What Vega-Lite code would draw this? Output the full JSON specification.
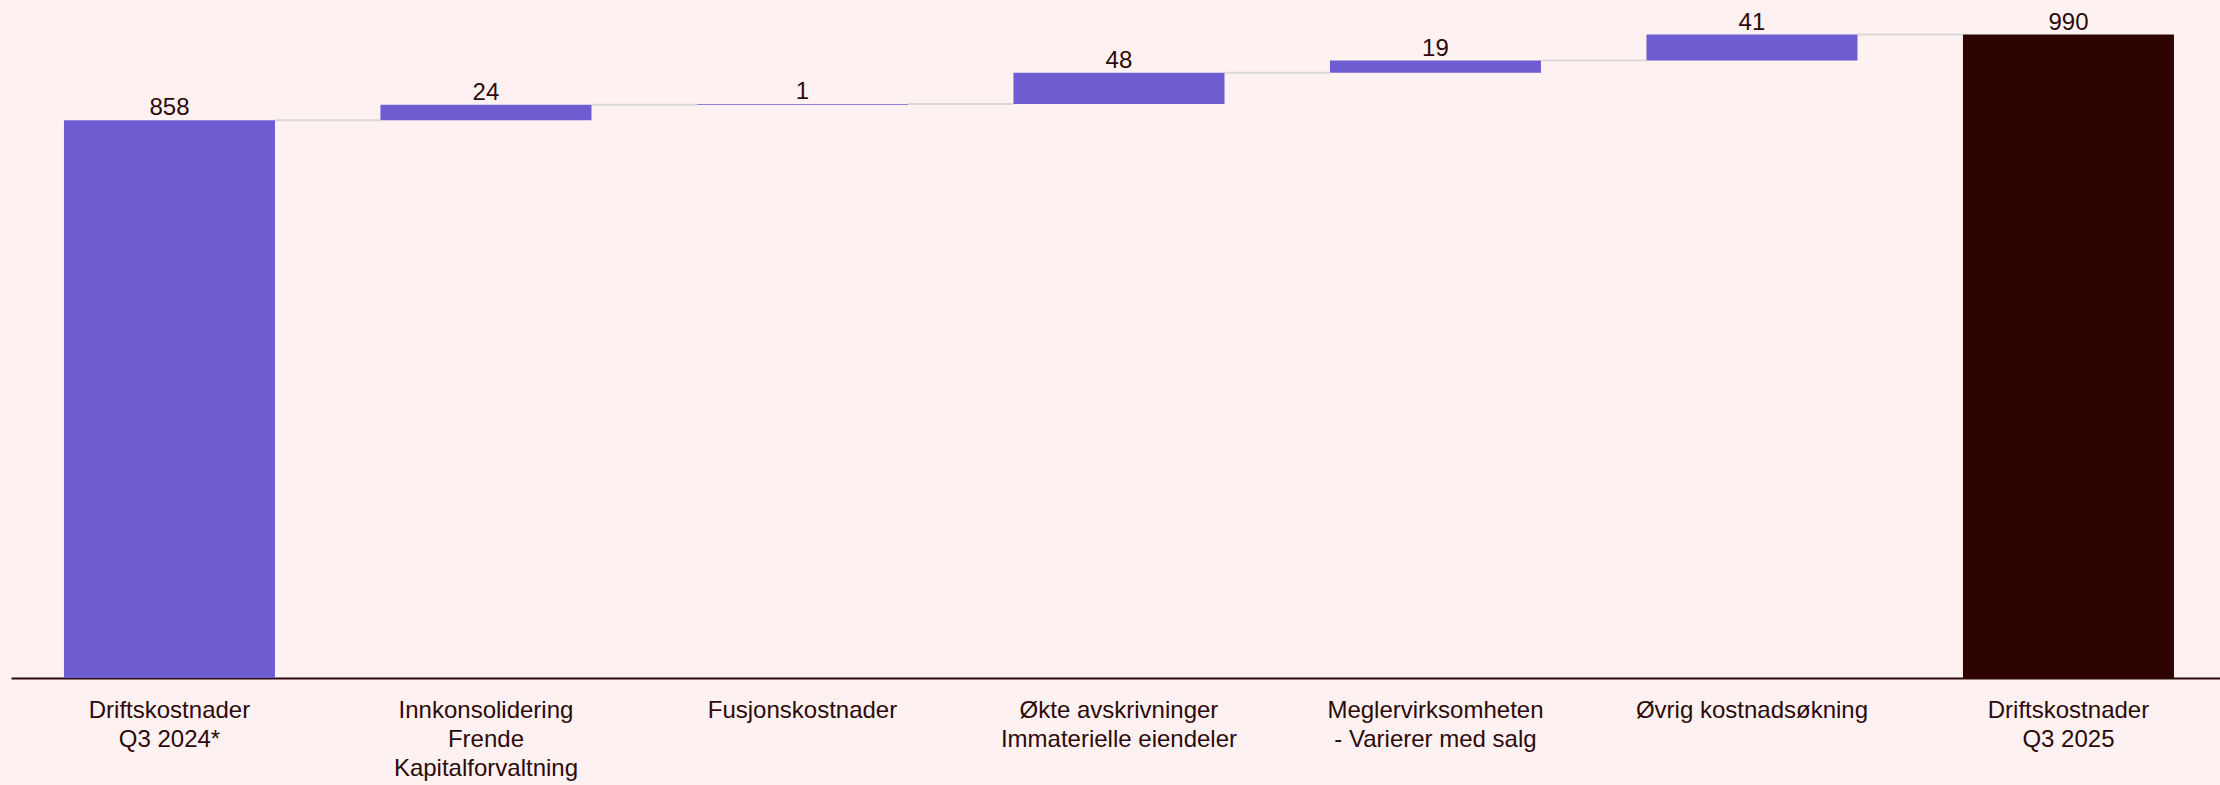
{
  "$schema": "https://vega.github.io/schema/vega-lite/v6.json",
  "width": 2209,
  "height": 650,
  "autosize": {"type": "none"},
  "padding": {"left": 11, "top": 28, "right": 0, "bottom": 107},
  "background": "#FDF1F1",
  "config": {"view": {"stroke": null}, "font": "Liberation Sans"},
  "data": {
    "values": [
      {"cat": "Driftskostnader|Q3 2024*", "start": 0, "end": 858, "text": "858", "kind": "a", "next": "Innkonsolidering|Frende|Kapitalforvaltning"},
      {"cat": "Innkonsolidering|Frende|Kapitalforvaltning", "start": 858, "end": 882, "text": "24", "kind": "a", "next": "Fusjonskostnader"},
      {"cat": "Fusjonskostnader", "start": 882, "end": 883, "text": "1", "kind": "a", "next": "Økte avskrivninger|Immaterielle eiendeler"},
      {"cat": "Økte avskrivninger|Immaterielle eiendeler", "start": 883, "end": 931, "text": "48", "kind": "a", "next": "Meglervirksomheten|- Varierer med salg"},
      {"cat": "Meglervirksomheten|- Varierer med salg", "start": 931, "end": 950, "text": "19", "kind": "a", "next": "Øvrig kostnadsøkning"},
      {"cat": "Øvrig kostnadsøkning", "start": 950, "end": 990, "text": "41", "kind": "a", "next": "Driftskostnader|Q3 2025"},
      {"cat": "Driftskostnader|Q3 2025", "start": 0, "end": 990, "text": "990", "kind": "b", "next": null}
    ]
  },
  "encoding": {
    "x": {
      "field": "cat",
      "type": "nominal",
      "sort": null,
      "scale": {"paddingInner": 0.3333, "paddingOuter": 0.1564, "align": 0.535},
      "axis": {
        "title": null,
        "labelAngle": 0,
        "labelExpr": "split(datum.label, '|')",
        "labelFontSize": 24,
        "labelLineHeight": 29,
        "labelColor": "#2D0A0A",
        "labelPadding": 20,
        "labelFont": "Liberation Sans",
        "labelBaseline": "top",
        "labelLimit": 400,
        "ticks": false,
        "grid": false,
        "domainColor": "#2D0A0A",
        "domainWidth": 2
      }
    }
  },
  "layer": [
    {
      "transform": [{"filter": "datum.next != null"}],
      "mark": {"type": "rule", "color": "#D9D9D9", "strokeWidth": 2},
      "encoding": {
        "x": {"field": "cat", "type": "nominal", "sort": null, "bandPosition": 1},
        "x2": {"field": "next", "bandPosition": 0},
        "y": {"field": "end", "type": "quantitative", "scale": {"domain": [0, 1000], "nice": false, "zero": true}, "axis": null}
      }
    },
    {
      "mark": {"type": "bar"},
      "encoding": {
        "y": {"field": "start", "type": "quantitative", "axis": null},
        "y2": {"field": "end"},
        "color": {
          "field": "kind",
          "type": "nominal",
          "scale": {"domain": ["a", "b"], "range": ["#6E5DD1", "#2D0402"]},
          "legend": null
        }
      }
    },
    {
      "mark": {"type": "text", "baseline": "alphabetic", "dy": -5, "fontSize": 24, "color": "#2D0A0A", "font": "Liberation Sans"},
      "encoding": {
        "y": {"field": "end", "type": "quantitative", "axis": null},
        "text": {"field": "text"}
      }
    }
  ]
}
